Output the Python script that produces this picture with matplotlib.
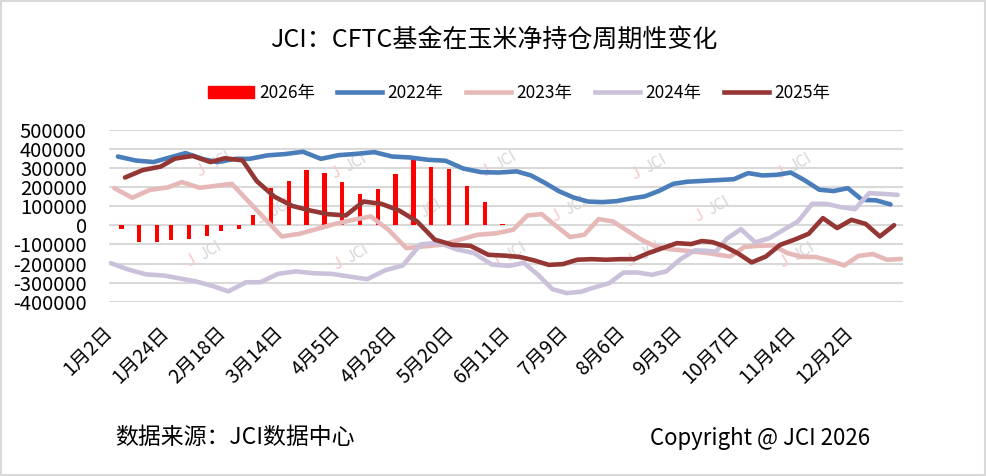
import numpy as np
import pandas as pd
import matplotlib
matplotlib.use('Agg')
import matplotlib.pyplot as plt
from matplotlib.patches import Patch, Rectangle
from matplotlib.lines import Line2D

plt.rcParams['font.family'] = ['Noto Sans CJK SC', 'DejaVu Sans']

# =============================================================================
# DATA  (weekly CFTC report dates, a few weeks absent in the source)
# =============================================================================
dates_2022 = pd.date_range('2022-01-04', periods=51, freq='7D').drop(
    pd.to_datetime(['2022-01-25', '2022-09-13', '2022-09-20', '2022-09-27']))
dates_2023 = pd.date_range('2023-01-03', periods=52, freq='7D').drop(
    pd.to_datetime(['2023-02-14', '2023-02-28']))
dates_2024 = pd.date_range('2024-01-02', periods=52, freq='7D')
dates_2025 = pd.date_range('2025-01-07', periods=51, freq='7D')
dates_2026 = pd.date_range('2026-01-06', periods=23, freq='7D')

v2022 = [361000, 340000, 332000, 379000, 347000, 332000, 349000, 349000, 367000, 374000,
         386000, 349000, 368000, 375000, 384000, 361000, 356000, 344000, 339000, 298000,
         279000, 277000, 283000, 262000, 222000, 178000, 146000, 125000, 122000, 127000,
         141000, 152000, 181000, 218000, 229000, 242000, 274000, 262000, 265000, 277000,
         235000, 187000, 180000, 195000, 134000, 131000, 110000]
v2023 = [195000, 145000, 186000, 199000, 227000, 197000, 218000, 40000, -58000, -44000,
         -18000, 8000, 29000, 47000, -23000, -119000, -110000, -101000, -75000, -49000,
         -42000, -23000, 52000, 59000, -2000, -61000, -49000, 33000, 21000, -27000,
         -75000, -110000, -125000, -132000, -140000, -146000, -155000, -163000, -113000, -107000,
         -105000, -145000, -165000, -166000, -185000, -210000, -160000, -150000, -180000, -176000]
v2024 = [-198000, -232000, -257000, -263000, -277000, -294000, -320000, -346000, -298000, -298000,
         -254000, -241000, -251000, -254000, -268000, -282000, -236000, -210000, -100000, -90000,
         -125000, -145000, -205000, -212000, -196000, -259000, -334000, -355000, -348000, -324000,
         -303000, -247000, -247000, -259000, -241000, -177000, -131000, -133000, -138000, -70000,
         -20000, -89000, -67000, -23000, 21000, 113000, 113000, 96000, 85000, 169000,
         165000, 160000]
v2025 = [251000, 290000, 308000, 350000, 364000, 332000, 352000, 341000, 232000, 150000,
         102000, 78000, 59000, 52000, 125000, 113000, 78000, 21000, -75000, -102000,
         -107000, -154000, -159000, -166000, -184000, -207000, -203000, -180000, -177000, -180000,
         -177000, -177000, -145000, -119000, -93000, -98000, -82000, -88000, -107000, -145000,
         -194000, -163000, -102000, -75000, -44000, 38000, -14000, 29000, 8000, -58000,
         1000]
v2026 = [-20000, -89000, -89000, -75000, -70000, -54000, -32000, -20000, 56000, 196000,
         234000, 288000, 274000, 225000, 166000, 190000, 269000, 344000, 304000, 298000,
         209000, 120000, 5000]

xtick_labels = ['1月2日', '1月24日', '2月18日', '3月14日', '4月5日', '4月28日', '5月20日',
                '6月11日', '7月9日', '8月6日', '9月3日', '10月7日', '11月4日', '12月2日']
yticks = list(range(-400000, 500001, 100000))

# =============================================================================
# CATEGORY AXIS: union of month-day of all report dates
# =============================================================================
all_dates = [dates_2022, dates_2023, dates_2024, dates_2025, dates_2026]
cats = sorted(set(d.strftime('%m-%d') for ds in all_dates for d in ds))
pos = {md: i for i, md in enumerate(cats)}
print('categories:', len(cats))


def xs(ds):
    return [pos[d.strftime('%m-%d')] for d in ds]


def md_of(label):
    m, d = label[:-1].split('月')
    return f'{int(m):02d}-{int(d):02d}'


tick_pos = [pos[md_of(t)] for t in xtick_labels]

# =============================================================================
# PLOT
# =============================================================================
W, H = 987, 476
fig = plt.figure(figsize=(W / 100, H / 100), dpi=100)
ax = fig.add_axes([109 / W, 1 - 301.7 / H, 794 / W, 171.7 / H])

c2022, c2023, c2024, c2025, c2026 = '#4a7ebb', '#e6b9b8', '#ccc1da', '#943634', '#ff0000'
lw = 3.3

ax.bar(xs(dates_2026), v2026, width=1.2, color=c2026, zorder=2)
for ds, vals, c in [(dates_2022, v2022, c2022), (dates_2023, v2023, c2023),
                    (dates_2024, v2024, c2024), (dates_2025, v2025, c2025)]:
    ax.plot(xs(ds), vals, color=c, lw=lw, solid_joinstyle='round',
            solid_capstyle='round', zorder=3)

ax.set_xlim(-0.5, len(cats) - 0.5)
ax.set_ylim(-400000, 500000)
ax.set_yticks(yticks)
ax.set_yticklabels([str(v) for v in yticks], fontsize=14.5)
ax.set_xticks(tick_pos)
ax.set_xticklabels([])
# rotated date labels, end of text just right of / below each tick
for p, t in zip(tick_pos, xtick_labels):
    ax.annotate(t, xy=(p, 0), xycoords=('data', 'axes fraction'),
                xytext=(-1, -20), textcoords='offset points',
                rotation=45, ha='right', va='center', rotation_mode='anchor',
                fontsize=14, annotation_clip=False)
ax.tick_params(axis='both', length=0)
ax.tick_params(axis='y', pad=16)
ax.grid(axis='y', color='#d9d9d9', lw=1.5)
ax.set_axisbelow(True)
for s in ax.spines.values():
    s.set_visible(False)

# watermarks
wm_xy = [(215, 165), (350, 167), (500, 165), (650, 168), (795, 167),
         (275, 212), (425, 213), (570, 210), (713, 210),
         (205, 255), (352, 258), (510, 256), (645, 255), (798, 256)]
for x, y in wm_xy:
    ax.text((x - 14) / W, 1 - (y + 6) / H, 'J', transform=fig.transFigure, color='#f6c8c8',
            fontsize=12, rotation=30, ha='center', va='center', zorder=1, clip_on=False)
    ax.text((x + 6) / W, 1 - (y - 4) / H, 'JCI', transform=fig.transFigure, color='#d6d6d6',
            fontsize=11, rotation=30, ha='center', va='center', zorder=1, clip_on=False)

# legend
handles = [Patch(color=c2026),
           Line2D([], [], color=c2022, lw=lw),
           Line2D([], [], color=c2023, lw=lw),
           Line2D([], [], color=c2024, lw=lw),
           Line2D([], [], color=c2025, lw=lw)]
labels = ['2026年', '2022年', '2023年', '2024年', '2025年']
fig.legend(handles, labels, loc='center', bbox_to_anchor=(0.526, 1 - 93 / H), ncol=5,
           frameon=False, fontsize=12.5, handlelength=2.6, handleheight=0.75,
           handletextpad=0.3, columnspacing=1.3)

fig.text(0.5, 1 - 40 / H, 'JCI：CFTC基金在玉米净持仓周期性变化', ha='center', va='center',
         fontsize=18)
fig.text(115 / W, 1 - 438 / H, '数据来源：JCI数据中心', ha='left', va='center', fontsize=16.5)
fig.text(870 / W, 1 - 438 / H, 'Copyright @ JCI 2026', ha='right', va='center', fontsize=16)

fig.patches.append(Rectangle((0.001, 0.002), 0.997, 0.996, transform=fig.transFigure,
                             fill=False, edgecolor='#d9d9d9', lw=1.5))

fig.savefig('out.png', dpi=100)
